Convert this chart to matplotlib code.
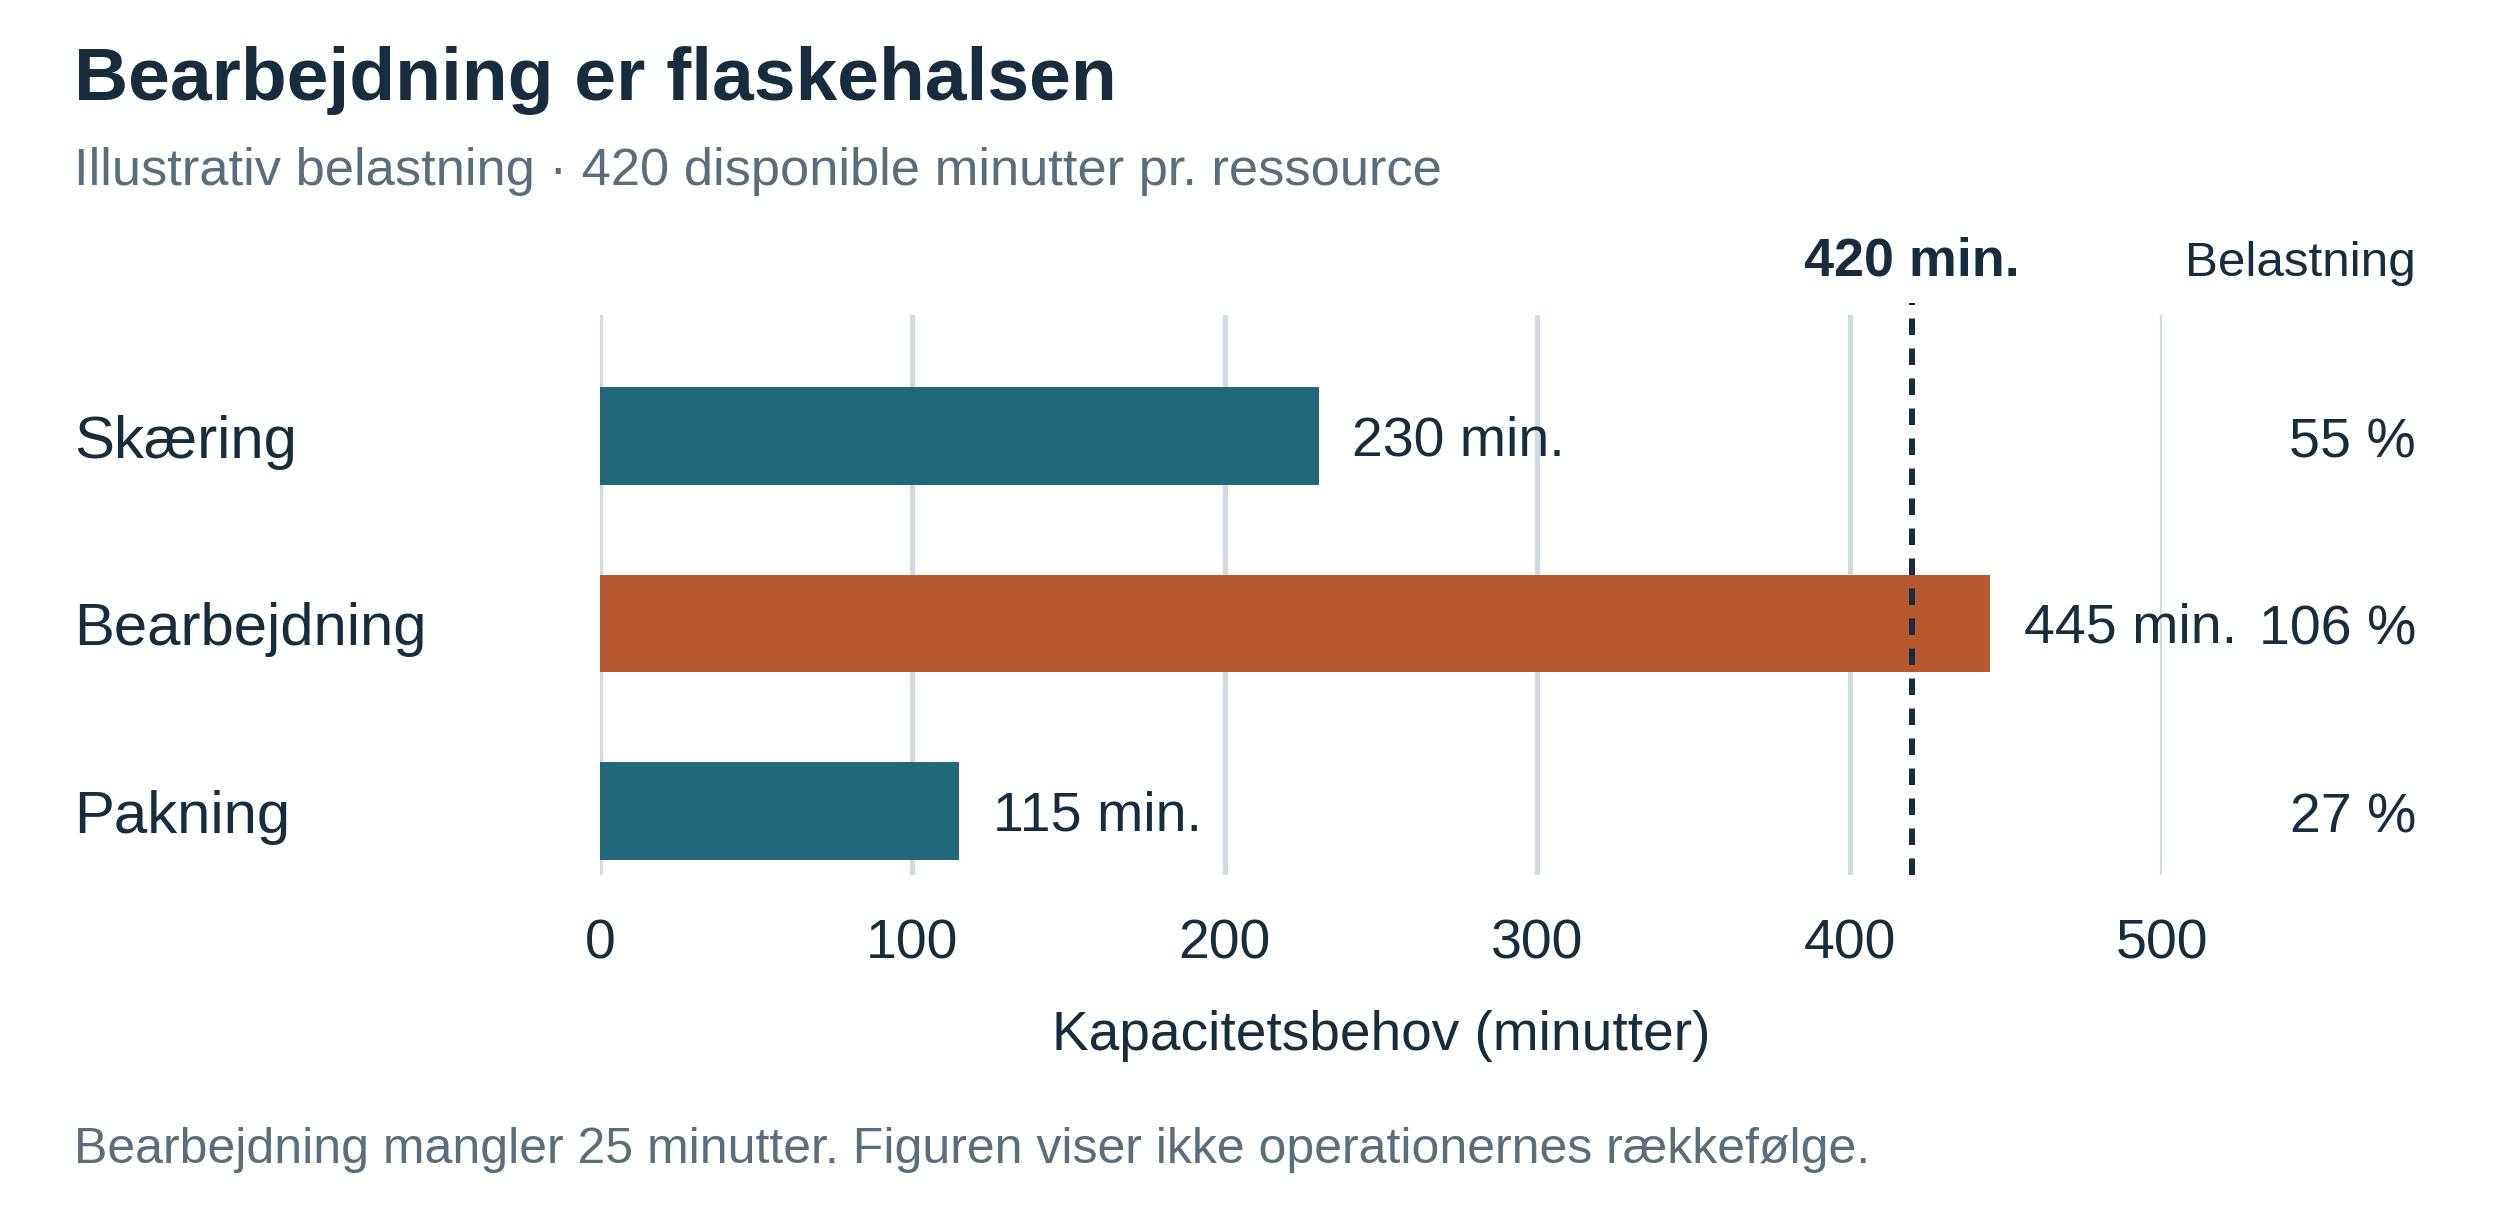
import matplotlib
matplotlib.use("Agg")
import matplotlib.pyplot as plt

# ---- data ----
categories = ["Skæring", "Bearbejdning", "Pakning"]
minutes = [230, 445, 115]
load_pct = [55, 106, 27]
capacity = 420
x_ticks = [0, 100, 200, 300, 400, 500]

title = "Bearbejdning er flaskehalsen"
subtitle = "Illustrativ belastning · 420 disponible minutter pr. ressource"
xlabel = "Kapacitetsbehov (minutter)"
footer = "Bearbejdning mangler 25 minutter. Figuren viser ikke operationernes rækkefølge."
load_header = "Belastning"

# ---- style ----
DARK = "#172c3d"
GREY = "#5a6d7b"
TEAL = "#21687a"
ORANGE = "#b8582e"
GRID = "#d0dae1"

plt.rcParams["font.family"] = ["Liberation Sans", "DejaVu Sans"]

W, H, DPI = 2500, 1220, 200
fig = plt.figure(figsize=(W / DPI, H / DPI), dpi=DPI)
fig.patch.set_facecolor("white")

ax_left, ax_right, ax_top, ax_bottom = 600, 2162, 315, 875
ax = fig.add_axes([ax_left / W, 1 - ax_bottom / H,
                   (ax_right - ax_left) / W, (ax_bottom - ax_top) / H])

ypos = list(range(len(categories)))
colors = [ORANGE if m > capacity else TEAL for m in minutes]
ax.barh(ypos, minutes, height=0.52, color=colors, zorder=2)

ax.set_xlim(0, 500)
ax.set_ylim(2.341, -0.645)
ax.set_xticks(x_ticks)
ax.set_xticklabels([str(t) for t in x_ticks])
ax.set_yticks([])
ax.tick_params(axis="x", length=0, pad=15.5, labelsize=20, labelcolor=DARK)
for s in ax.spines.values():
    s.set_visible(False)
ax.set_axisbelow(True)
ax.grid(axis="x", color=GRID, linewidth=1.9, zorder=0)
ax.grid(axis="y", visible=False)

# capacity line
ax.axvline(capacity, ymin=0, ymax=1.0214, color=DARK, linewidth=2.16,
           linestyle=(0, (2.75, 2.25)), clip_on=False, zorder=3)
ax.annotate(f"{capacity} min.", xy=(capacity, 1 - 276 / H),
            xycoords=("data", "figure fraction"),
            ha="center", va="baseline", fontsize=19.4, fontweight="bold",
            color=DARK, annotation_clip=False)

# value labels, category labels, load labels
for i, (cat, m, p) in enumerate(zip(categories, minutes, load_pct)):
    ax.annotate(f"{m} min.", xy=(m, i), xytext=(12, -7.0),
                textcoords="offset points", ha="left", va="baseline",
                fontsize=20, color=DARK, annotation_clip=False)
    ax.annotate(cat, xy=(74 / W, i), xycoords=("figure fraction", "data"),
                xytext=(0, -7.8), textcoords="offset points",
                ha="left", va="baseline", fontsize=21.6, color=DARK,
                annotation_clip=False)
    ax.annotate(f"{p} %", xy=(2416 / W, i), xycoords=("figure fraction", "data"),
                xytext=(0, -7.7), textcoords="offset points",
                ha="right", va="baseline", fontsize=20, color=DARK,
                annotation_clip=False)

fig.text(2416 / W, 1 - 276 / H, load_header, ha="right", va="baseline",
         fontsize=17.8, color=DARK)

# titles & footer
fig.text(74 / W, 1 - 100 / H, title, ha="left", va="baseline",
         fontsize=27.0, fontweight="bold", color=DARK)
fig.text(74 / W, 1 - 185 / H, subtitle, ha="left", va="baseline",
         fontsize=18.9, color=GREY)
fig.text((ax_left + ax_right) / 2 / W, 1 - 1050 / H, xlabel, ha="center",
         va="baseline", fontsize=19.8, color=DARK)
fig.text(74 / W, 1 - 1163 / H, footer, ha="left", va="baseline",
         fontsize=18.0, color=GREY)

fig.savefig("out.png", dpi=DPI, facecolor="white")
